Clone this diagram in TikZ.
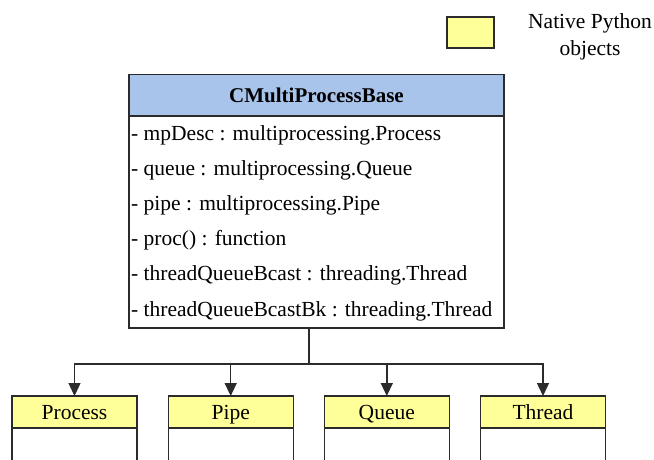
\documentclass[tikz,border=0pt]{standalone}
\usepackage{fontspec}
\setmainfont{Liberation Serif}
\newfontfamily\timesface{Liberation Serif}
\usetikzlibrary{positioning,arrows.meta}
\definecolor{headblue}{HTML}{A9C4EB}
\definecolor{pyyellow}{HTML}{FFFF99}
\definecolor{linegray}{HTML}{2B2B2B}
\tikzset{classhead/.style={draw=linegray,line width=1.4pt,fill=headblue,outer sep=0pt,
            minimum width=375pt,minimum height=41.5pt,inner sep=0pt,
            font=\timesface\bfseries\fontsize{21}{25}\selectfont},
        classbody/.style={draw=linegray,line width=1.4pt,fill=white,outer sep=0pt,
            minimum width=375pt,minimum height=212pt,inner sep=0pt},
        attr/.style={inner sep=0pt,font=\timesface\fontsize{21.5}{27}\selectfont},
        nativehead/.style={draw=linegray,line width=1.4pt,fill=pyyellow,outer sep=0pt,
            minimum width=125pt,minimum height=32pt,inner sep=0pt,
            text height=16pt,text depth=2pt,
            font=\timesface\fontsize{21.5}{25}\selectfont},
        nativebody/.style={draw=linegray,line width=1.4pt,fill=white,outer sep=0pt,
            minimum width=125pt,minimum height=36pt,inner sep=0pt},
        link/.style={draw=linegray,line width=1.4pt},
        inherit/.style={link,-{Triangle[length=13pt,width=12pt]}},
        }
\begin{document}
\begin{tikzpicture}[x=1pt,y=-1pt]
    \useasboundingbox (0,0) rectangle (654,459);

    % legend
    \node[nativehead,minimum width=47pt,minimum height=31pt] (legend) at (470.5,32.5) {};
    \node[attr,align=center] (legendtext) at (590,37) {Native Python\\objects};

    % the base class
    \node[classhead] (base) at (316.5,95.25) {CMultiProcessBase};
    \node[classbody,below=0pt of base] (basebody) {};
    \foreach \row [count=\i] in {{mpDesc : multiprocessing.Process},
                                 {queue : multiprocessing.Queue},
                                 {pipe : multiprocessing.Pipe},
                                 {proc() : function},
                                 {threadQueueBcast : threading.Thread},
                                 {threadQueueBcastBk : threading.Thread}}
        \node[attr,anchor=base west] (attr\i) at (131,{140+35.2*(\i-1)}) {- \row};

    % native python objects
    \foreach \name/\x in {Process/74.5,Pipe/230.7,Queue/386.8,Thread/543}{
        \node[nativehead] (\name) at (\x,412) {\name};
        \node[nativebody,below=0pt of \name] (\name body) {};
    }

    \coordinate (fork) at (309,364);
    \draw[link] (basebody.south -| fork) -- (fork);
    \foreach \name in {Process,Pipe,Queue,Thread}
        \draw[inherit] (fork) -| (\name.north);

\end{tikzpicture}
\end{document}
